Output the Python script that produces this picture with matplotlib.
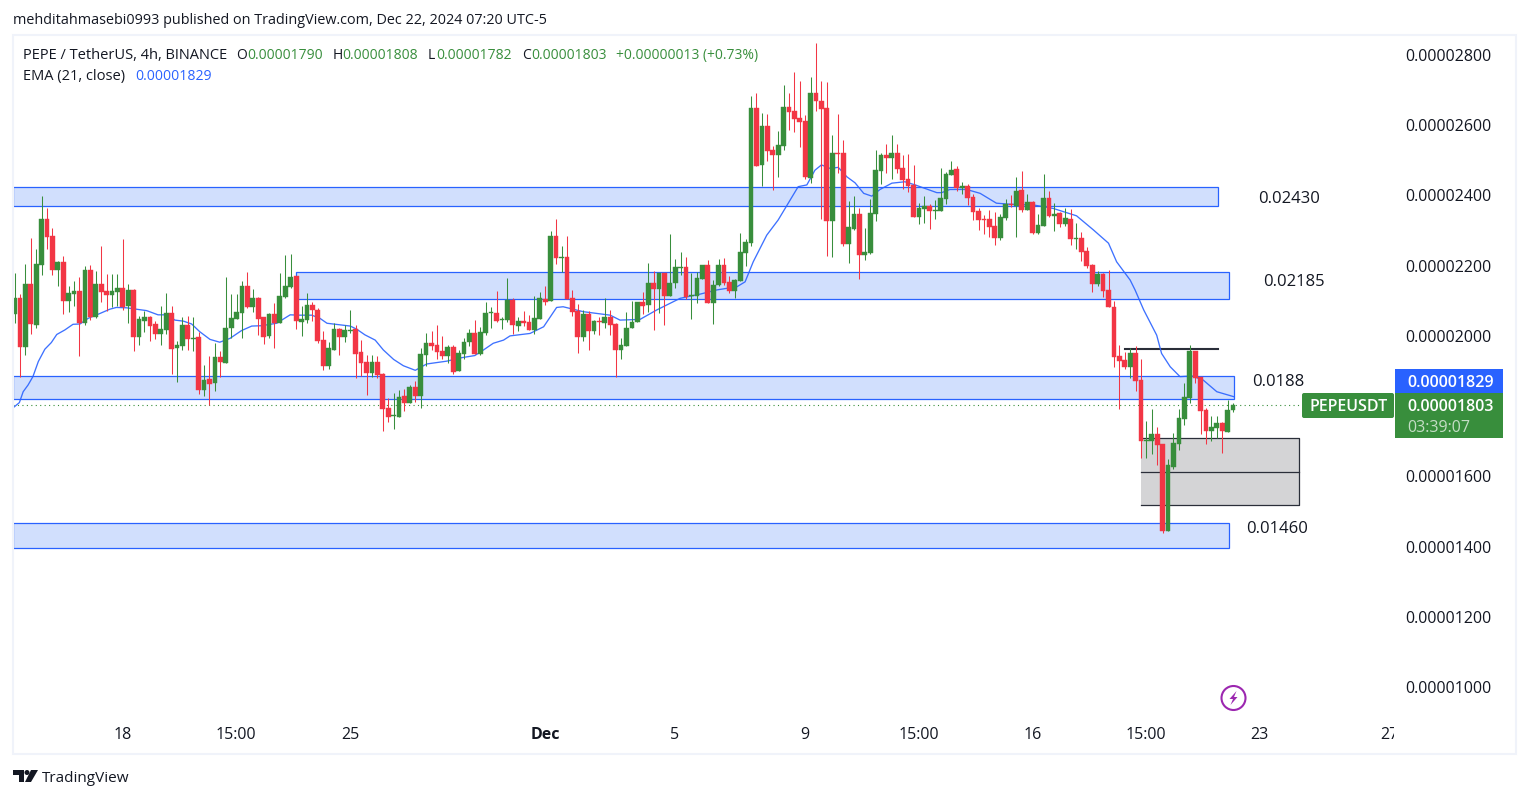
import matplotlib
matplotlib.use("Agg")
import matplotlib.pyplot as plt
from matplotlib.patches import Rectangle, Circle, Polygon, FancyBboxPatch
from matplotlib.ticker import FuncFormatter
from matplotlib.transforms import Bbox

plt.rcParams["font.family"] = ["Open Sans", "DejaVu Sans"]

# prices in units of 0.00000001, one entry per 4h bar
opens = [2063,2108,1969,2148,2031,2203,2333,2285,2188,2210,2099,2119,2128,2037,2188,2054,2148,2128,2116,2125,
         2136,2085,2131,1997,2042,2054,2034,2005,2017,2065,1966,1971,2031,1991,1997,1846,1877,1866,1940,1923,
         2023,2048,2065,2142,2082,2108,2054,2000,2062,2037,2111,2138,2171,2040,2045,2088,2074,1988,1914,1960,
         2020,1998,2014,2020,1954,1926,1894,1926,1891,1795,1772,1769,1829,1809,1854,1829,1946,1980,1974,1957,
         1943,1968,1900,1948,1983,2008,1948,2008,2065,2065,2045,2045,2102,2028,2042,2040,2017,2048,2105,2099,
         2284,2223,2224,2107,2071,1997,2062,2014,2042,2037,2055,2034,1960,1971,2022,2039,2096,2088,2150,2133,
         2179,2113,2150,2194,2196,2114,2113,2162,2202,2094,2145,2202,2153,2128,2156,2236,2264,2649,2487,2598,
         2529,2515,2541,2652,2640,2620,2612,2450,2692,2669,2649,2327,2521,2521,2262,2304,2347,2230,2236,2347,
         2470,2515,2507,2521,2478,2447,2430,2339,2361,2370,2357,2356,2390,2458,2475,2421,2427,2396,2356,2333,
         2333,2313,2279,2336,2376,2370,2416,2359,2381,2293,2313,2393,2342,2350,2319,2333,2277,2279,2242,2202,
         2148,2176,2131,2082,1943,1931,1911,1951,1874,1702,1701,1721,1692,1444,1627,1692,1763,1823,1957,1883,
         1789,1729,1738,1752,1726,1790]
highs = [2178,2119,2205,2279,2247,2398,2364,2307,2213,2228,2142,2156,2168,2199,2202,2185,2256,2176,2176,2176,
         2276,2148,2134,2057,2071,2057,2042,2085,2122,2085,1985,2054,2057,2054,2011,1917,1943,1980,1957,2168,
         2119,2119,2156,2182,2134,2111,2054,2065,2094,2179,2230,2233,2171,2085,2122,2097,2079,2014,1983,2037,
         2022,2031,2074,2031,1988,1946,1946,1943,1894,1823,1837,1846,1849,1860,1872,1966,2008,2014,2031,1999,
         1974,1974,1960,1994,2020,2045,2025,2097,2082,2128,2054,2165,2108,2054,2071,2059,2114,2125,2142,2299,
         2333,2256,2284,2132,2091,2075,2072,2045,2055,2108,2074,2036,1993,2068,2099,2097,2125,2207,2185,2179,
         2179,2290,2219,2239,2224,2179,2182,2202,2216,2159,2219,2222,2170,2162,2293,2276,2683,2692,2634,2632,
         2541,2583,2714,2692,2751,2726,2629,2737,2834,2726,2723,2572,2632,2558,2384,2398,2364,2307,2390,2529,
         2521,2547,2572,2547,2515,2518,2487,2378,2398,2376,2387,2478,2467,2498,2484,2438,2433,2404,2364,2344,
         2359,2353,2347,2390,2401,2453,2470,2404,2384,2347,2461,2413,2379,2353,2364,2361,2322,2296,2253,2205,
         2185,2179,2188,2099,1974,1954,1965,1971,1934,1758,1792,1741,1692,1649,1723,1792,1866,1974,1957,1883,
         1795,1772,1772,1755,1817,1808]
lows = [2036,1882,1946,2005,2023,2173,2247,2173,2142,2062,2068,2085,1943,2031,2045,2051,2097,2071,2082,2085,
        2074,2037,1957,1974,2011,1985,1991,1974,2005,1892,1869,1960,1960,1957,1835,1829,1803,1843,1883,1923,
        1994,2048,1994,2079,2068,2003,1977,1994,1966,2037,2108,2136,2020,1999,2037,2042,1980,1903,1906,1960,
        1946,1983,2008,1880,1886,1832,1883,1880,1729,1755,1735,1769,1786,1809,1812,1795,1914,1960,1934,1934,
        1923,1891,1900,1934,1971,1948,1946,2003,2022,2040,2020,2040,2005,2014,2028,2017,2005,2048,2088,2099,
        2205,2181,2106,2056,1951,1985,1960,2005,2002,2022,2002,1884,1934,1971,2022,2039,2062,2068,2017,2066,
        2031,2113,2136,2173,2105,2048,2094,2162,2094,2034,2142,2145,2122,2108,2156,2199,2256,2484,2427,2498,
        2415,2452,2529,2586,2581,2538,2447,2435,2640,2333,2227,2224,2464,2256,2207,2301,2162,2216,2233,2327,
        2433,2464,2447,2464,2418,2410,2339,2319,2322,2304,2333,2356,2376,2458,2413,2404,2373,2330,2302,2290,
        2282,2259,2273,2330,2367,2282,2353,2359,2290,2290,2313,2339,2299,2310,2313,2259,2248,2213,2193,2125,
        2142,2111,2082,1911,1793,1906,1880,1843,1652,1652,1664,1632,1439,1444,1621,1675,1746,1809,1866,1721,
        1692,1701,1709,1666,1726,1782]
closes = [2108,1969,2148,2034,2205,2333,2283,2188,2210,2099,2122,2128,2036,2188,2053,2148,2125,2116,2128,2136,
          2082,2131,1997,2048,2054,2028,2005,2020,2065,1963,1974,2031,1991,1994,1846,1874,1863,1940,1926,2023,
          2051,2068,2142,2082,2108,2048,1997,2062,2036,2114,2142,2168,2042,2048,2088,2074,1985,1914,1966,2020,
          1998,2017,2017,1948,1923,1894,1926,1889,1792,1769,1775,1826,1809,1854,1829,1948,1980,1971,1954,1943,
          1968,1897,1951,1983,2008,1948,2011,2065,2068,2042,2048,2102,2031,2042,2037,2017,2051,2107,2097,2284,
          2222,2224,2106,2068,1997,2062,2014,2042,2040,2054,2031,1960,1974,2022,2039,2096,2085,2150,2133,2179,
          2113,2150,2196,2196,2111,2116,2165,2202,2094,2145,2202,2150,2128,2159,2239,2267,2649,2484,2598,2526,
          2515,2543,2652,2637,2618,2608,2452,2692,2669,2646,2327,2521,2518,2262,2310,2347,2230,2239,2350,2472,
          2515,2507,2521,2475,2444,2427,2339,2364,2370,2356,2359,2393,2461,2472,2421,2427,2393,2353,2330,2331,
          2310,2279,2339,2376,2373,2413,2359,2381,2293,2316,2393,2342,2347,2319,2336,2276,2279,2239,2199,2148,
          2176,2128,2082,1940,1928,1911,1951,1872,1701,1703,1721,1689,1444,1632,1695,1766,1826,1957,1880,1786,
          1729,1741,1752,1729,1789,1803]

# EMA (21, close): bar position and value
ema_bars = [-0.28,0.9,1.6,2.5,3.4,4.4,5.6,6.8,7.8,9.3,10.8,12.1,13.6,15.8,17.6,18.8,20.7,22.5,24.4,26.5,28.4,29.6,
            31.2,32.7,34.2,36.1,37.9,39.8,41.9,43.8,45.6,48.4,50.9,52.7,54.9,56.4,57.7,62,63.2,64.7,66.6,68.1,70,
            71.8,74,76.1,79.8,82.6,85,86.6,88.4,90.3,91.5,95.2,97.7,100.1,101.3,105,110,111.8,115.5,118.6,122.9,
            126.6,129.7,133.4,134.9,136.4,138.9,141,144.7,146.3,147.8,149,150.6,152.1,153.7,155.2,156.8,158.3,
            159.8,162,164.4,166.3,170.3,171.2,172.7,175.8,178.3,181.3,183.8,188.1,191.8,196.1,199.2,202,203.5,
            206,206.9,208.5,210.9,211.8,213.4,215.2,217.4,219.5,222,225.1]
ema_vals = [1795,1810,1841,1860,1884,1927,1962,1981,2004,2017,2033,2034,2050,2064,2076,2081,2080,2076,2072,2060,2060,
            2045,2042,2034,2012,1990,1982,1993,2015,2028,2029,2036,2060,2059,2059,2050,2036,2028,2019,2003,1988,1960,
            1933,1915,1902,1920,1928,1938,1944,1960,1979,1988,2000,2007,2026,2081,2083,2069,2059,2045,2047,2074,2107,
            2119,2131,2140,2154,2211,2287,2330,2425,2430,2472,2487,2477,2480,2453,2436,2406,2398,2417,2435,2439,2430,
            2408,2408,2417,2417,2406,2378,2375,2373,2363,2342,2302,2264,2211,2159,2131,2074,2002,1950,1912,1884,1886,
            1874,1841,1827]

# drawn zones: start bar, end bar, top price, bottom price
zone_start = [-0.28, 52.0, -0.28, -0.28]
zone_end = [222.3, 224.3, 225.2, 224.3]
zone_top = [2424, 2182, 1886, 1467]
zone_bottom = [2370, 2105, 1820, 1396]
zone_labels = ["0.02430", "0.02185", "0.0188", "0.01460"]
label_bars = [235.3, 236.2, 233.4, 233.2]
label_prices = [2390, 2153, 1868, 1449]

grey_box = [208.0, 237.2, 1709, 1517, 1612]
top_line = [205.0, 222.3, 1962]
last_price = 1803
ema_last = 1829

# 0.00001800 sits behind the price tag in the reference, so it is left out
price_ticks = [1000, 1200, 1400, 1600, 2000, 2200, 2400, 2600, 2800]
date_ticks = [20, 41, 62, 98, 122, 146, 167, 188, 209, 230, 254]
date_labels = ["18", "15:00", "25", "Dec", "5", "9", "15:00", "16", "15:00", "23", "27"]

GREEN = "#388e3c"
RED = "#f23645"
BLUE = "#2962ff"
TEXT = "#131722"
W, H = 1529, 798

fig = plt.figure(figsize=(W / 100, H / 100), dpi=100, facecolor="white")
# the chart pane runs from pixel 13 to 1395 across, 35 to 720 down
ax = fig.add_axes([13 / W, 1 - 720 / H, (1395 - 13) / W, (720 - 35) / H])
ax.set_xlim(-0.277, 254.9)
ax.set_ylim(906, 2857)
for s in ax.spines.values():
    s.set_visible(False)

for x0, x1, top, bot in zip(zone_start, zone_end, zone_top, zone_bottom):
    ax.add_patch(Rectangle((x0, bot), x1 - x0, top - bot, fc="#d1dffd", ec=BLUE, lw=0.9, zorder=1))
gx0, gx1, gtop, gbot, gmid = grey_box
ax.add_patch(Rectangle((gx0, gbot), gx1 - gx0, gtop - gbot, fc="#d4d4d6", ec="none", zorder=1))
ax.plot([gx0, gx1, gx1, gx0], [gtop, gtop, gbot, gbot], color="#2a2e39", lw=0.9, zorder=1.1)
ax.plot([gx0, gx1], [gmid, gmid], color="#2a2e39", lw=0.9, zorder=1.1)
ax.plot(top_line[:2], [top_line[2], top_line[2]], color="#2a2e39", lw=1.5, zorder=1.1)
ax.plot([-0.277, 237.5], [last_price, last_price], color=GREEN, lw=0.8, ls=(0, (1, 3)), zorder=1.2)

ax.plot(ema_bars, ema_vals, color=BLUE, lw=0.95, alpha=0.9, zorder=2)

bars = list(range(len(opens)))
colors = [GREEN if c >= o else RED for o, c in zip(opens, closes)]
ax.vlines(bars, lows, highs, colors=colors, lw=0.75, zorder=3)
ax.bar(bars, [abs(c - o) for o, c in zip(opens, closes)], bottom=[min(o, c) for o, c in zip(opens, closes)],
       width=0.88, color=colors, lw=0.3, edgecolor=colors, zorder=4)

for lab, bx, pr in zip(zone_labels, label_bars, label_prices):
    ax.text(bx, pr, lab, fontsize=12, color=TEXT, ha="center", va="center", zorder=5)

ax.yaxis.tick_right()
ax.set_yticks(price_ticks)
ax.yaxis.set_major_formatter(FuncFormatter(lambda v, p: f"{v * 1e-8:.8f}"))
ax.tick_params(axis="y", length=0, pad=7.5, labelsize=11.5, labelcolor=TEXT)
ax.set_xticks([t - 0.05 for t in date_ticks])
ax.set_xticklabels(date_labels)
ax.tick_params(axis="x", length=0, pad=5, labelsize=11.5, labelcolor=TEXT)
for lab in ax.get_xticklabels():
    if lab.get_text() == "Dec":
        lab.set_fontweight("bold")
    if lab.get_text() == "27":
        lab.set_clip_box(Bbox([[0, 0], [1394, H]]))
        lab.set_clip_on(True)

# overlay in pixel coordinates for the page furniture
ov = fig.add_axes([0, 0, 1, 1], facecolor="none")
ov.set_xlim(0, W)
ov.set_ylim(H, 0)
ov.axis("off")

ov.add_patch(Rectangle((13, 35), 1503, 719, fc="none", ec="#f0f3fa", lw=1.5))

ov.text(13, 24, "mehditahmasebi0993 published on TradingView.com, Dec 22, 2024 07:20 UTC-5",
        fontsize=10.33, color=TEXT, va="baseline")
ov.text(23, 59, "PEPE / TetherUS, 4h, BINANCE", fontsize=10.5, color=TEXT, va="baseline")
legend_bits = [(236, "O", TEXT), (247, "0.00001790", GREEN), (333, "H", TEXT), (342, "0.00001808", GREEN),
               (428, "L", TEXT), (436, "0.00001782", GREEN), (522, "C", TEXT), (531, "0.00001803", GREEN),
               (616, "+0.00000013 (+0.73%)", GREEN)]
for px, s, col in legend_bits:
    ov.text(px, 59, s, fontsize=10.0, color=col, va="baseline")
ov.text(23, 80, "EMA (21, close)", fontsize=10.5, color=TEXT, va="baseline")
ov.text(135, 80, f"{ema_last * 1e-8:.8f}", fontsize=10.1, color=BLUE, va="baseline")

# price labels on the right
ov.add_patch(Rectangle((1395, 369), 108, 24, fc=BLUE, ec="none"))
ov.add_patch(Rectangle((1395, 393), 108, 45, fc=GREEN, ec="none"))
ov.add_patch(FancyBboxPatch((1304, 395), 88, 21, boxstyle="round,pad=2", fc=GREEN, ec="none"))
ov.text(1451, 387, f"{ema_last * 1e-8:.8f}", fontsize=11.5, color="white", ha="center", va="baseline", fontweight=600)
ov.text(1451, 411, f"{last_price * 1e-8:.8f}", fontsize=11.5, color="white", ha="center", va="baseline", fontweight=600)
ov.text(1407, 432, "03:39:07", fontsize=11.5, color="#c4ddc5", ha="left", va="baseline")
ov.text(1348.5, 411, "PEPEUSDT", fontsize=11.5, color="white", ha="center", va="baseline", fontweight=600)

# lightning badge
ov.add_patch(Circle((1233.5, 698), 12, fc="white", ec="#9c27b0", lw=1.5))
ov.add_patch(Polygon([(1236.5, 691), (1229.5, 699), (1233, 699), (1230.5, 705), (1237.5, 697), (1234, 697)],
                     fc="#9c27b0", ec="none"))

# TradingView mark
ov.add_patch(Polygon([(13, 770), (24, 770), (24, 782), (19, 782), (19, 775), (13, 775)], fc=TEXT, ec="none"))
ov.add_patch(Circle((27, 772.5), 2.5, fc=TEXT, ec="none"))
ov.add_patch(Polygon([(31, 770), (38, 770), (31, 782), (25, 782)], fc=TEXT, ec="none"))
ov.text(42, 782, "TradingView", fontsize=11, color=TEXT, va="baseline")

fig.savefig("out.png", dpi=100)
